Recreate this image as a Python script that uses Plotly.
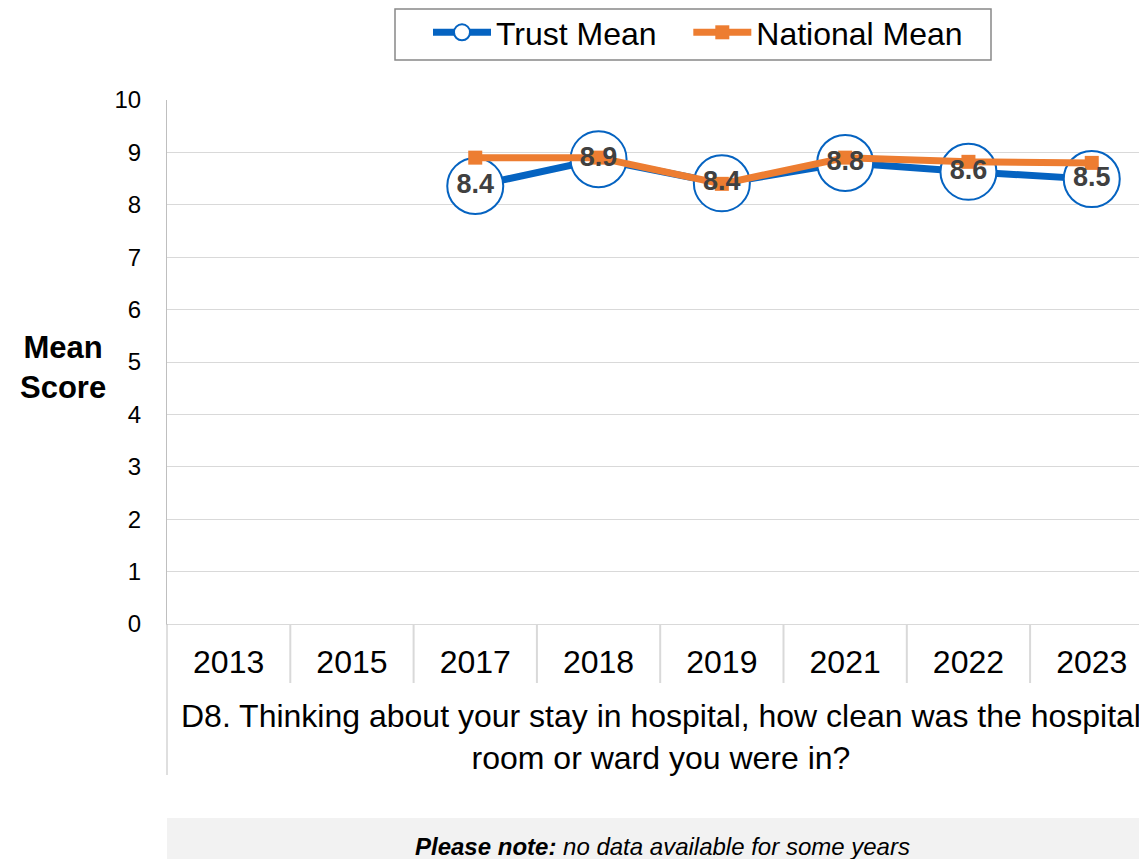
import plotly.graph_objects as go

years = ["2013", "2015", "2017", "2018", "2019", "2021", "2022", "2023"]
trust_mean = [None, None, 8.36, 8.87, 8.41, 8.8, 8.63, 8.49]
national_mean = [None, None, 8.9, 8.9, 8.4, 8.9, 8.82, 8.8]
trust_labels = ["" if v is None else f"{v:.1f}" for v in trust_mean]

BLUE = "#0563C1"
ORANGE = "#ED7D31"
FONT = "Arial, Liberation Sans, sans-serif"

W, H = 1139, 859
L, R, T = 167, 0, 100
PLOT_BOTTOM = 624
B = H - PLOT_BOTTOM
PH = H - T - B
PW = W - L - R


def py(page_px):
    return (PLOT_BOTTOM - page_px) / PH


def px_x(page_px):
    return (page_px - L) / PW


NB = "\u00a0"

fig = go.Figure()
fig.add_trace(go.Scatter(
    x=years, y=trust_mean, name="Trust Mean" + NB * 3, mode="lines+markers",
    line=dict(color=BLUE, width=7),
    marker=dict(symbol="circle", size=56, color="white", line=dict(color=BLUE, width=2)),
))
fig.add_trace(go.Scatter(
    x=years, y=national_mean, name="National Mean", mode="lines+markers",
    line=dict(color=ORANGE, width=7),
    marker=dict(symbol="square", size=14, color=ORANGE),
))
fig.add_trace(go.Scatter(
    x=years, y=trust_mean, mode="text", text=trust_labels, showlegend=False,
    textposition="middle center",
    textfont=dict(family=FONT, size=27, color="#404040", weight="bold"),
    hoverinfo="skip",
))

cat_w = 123.3
xmax = PW / cat_w - 0.5

fig.update_xaxes(
    type="category", categoryorder="array", categoryarray=years,
    range=[-0.5, xmax], showgrid=False, showline=True, linecolor="#d9d9d9", linewidth=1,
    ticks="", ticklabelstandoff=10,
    tickfont=dict(family=FONT, size=32, color="#000000"),
    zeroline=False,
)
fig.update_yaxes(
    range=[0, 10], dtick=1, showgrid=True, gridcolor="#d9d9d9", gridwidth=1,
    showline=True, linecolor="#bfbfbf", linewidth=1, zeroline=False,
    ticks="outside", ticklen=20, tickcolor="rgba(0,0,0,0)",
    tickfont=dict(family=FONT, size=24, color="#000000"),
)

shapes = []
for i in range(len(years) - 1):
    shapes.append(dict(type="line", xref="x", yref="paper", x0=i + 0.5, x1=i + 0.5,
                       y0=0, y1=py(683), line=dict(color="#d9d9d9", width=2)))
shapes.append(dict(type="line", xref="paper", yref="paper", x0=0, x1=0,
                   y0=0, y1=py(775), line=dict(color="#bfbfbf", width=1)))
shapes.append(dict(type="rect", xref="paper", yref="paper", x0=0, x1=1.05,
                   y0=py(859) - 0.01, y1=py(818), fillcolor="#f2f2f2", line=dict(width=0),
                   layer="below"))
# legend frame
shapes.append(dict(type="rect", xref="paper", yref="paper", x0=px_x(395), x1=px_x(991),
                   y0=py(60), y1=py(9), fillcolor="rgba(0,0,0,0)",
                   line=dict(color="#888888", width=1.5)))

annotations = [
    dict(xref="paper", yref="paper", x=px_x(63), y=py(367), text="<b>Mean<br>Score</b>",
         showarrow=False, font=dict(family=FONT, size=31, color="#000000"),
         xanchor="center", yanchor="middle", align="center"),
    dict(xref="paper", yref="paper", x=px_x(661), y=py(737),
         text="D8. Thinking about your stay in hospital, how clean was the hospital<br>room or ward you were in?",
         showarrow=False, font=dict(family=FONT, size=32, color="#000000"),
         xanchor="center", yanchor="middle", align="center"),
    dict(xref="paper", yref="paper", x=px_x(662), y=py(846),
         text="<b><i>Please note:</i></b><i> no data available for some years</i>",
         showarrow=False, font=dict(family=FONT, size=24, color="#000000"),
         xanchor="center", yanchor="middle"),
]

fig.update_layout(
    width=W, height=H, margin=dict(l=L, r=R, t=T, b=B),
    plot_bgcolor="white", paper_bgcolor="white",
    font=dict(family=FONT, color="#000000"),
    showlegend=True,
    legend=dict(orientation="h", x=px_x(428), y=py(5), xanchor="left", yanchor="top",
                bgcolor="rgba(0,0,0,0)", borderwidth=0, itemwidth=58,
                font=dict(family=FONT, size=32, color="#000000")),
    shapes=shapes, annotations=annotations,
)

fig.write_html(
    "out.html",
    config={"displayModeBar": False},
    post_script="document.body.style.margin='0';document.body.style.overflow='hidden';",
)
